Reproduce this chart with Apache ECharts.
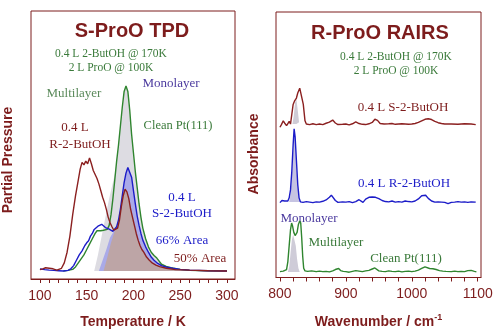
<!DOCTYPE html>
<html>
<head>
<meta charset="utf-8">
<script src="https://cdn.jsdelivr.net/npm/echarts@6/dist/echarts.min.js"></script>
<style>
  html, body { margin: 0; padding: 0; background: #fff; }
  #main { width: 500px; height: 334px; }
</style>
</head>
<body>
<div id="main"></div>
<script>
// ---- TPD (left panel): [temperature K, signal] ----
var tpdRed = [[100,3.5],[103,3.8],[106,4.2],[110,4.0],[114,3.8],[118,3.3],[120,3.2],[123,4],[126,6],[129,10],[132,16],[135,24],[138,31],[141,37],[143,41],[145,43.5],[147,42.6],[149,44],[151,43],[153,45.2],[155,43],[157,40.5],[159,41],[161,37.5],[163,35.5],[165,33],[167,30.5],[169,28.5],[171,26],[173,23],[175,21],[177,19.5],[179,18.2],[181,18.6],[183,19],[185,22],[187,27],[189,31],[191,33.5],[193,32.5],[195,30],[197,26],[199,23],[201,20],[203,17],[205,14.5],[207,12.5],[209,11],[211,10],[214,8.2],[217,7],[220,6],[224,5.2],[228,4.6],[235,4],[245,3.5],[260,3.3],[280,3.1],[300,3]];
var tpdBlue = [[100,3.8],[105,3.5],[110,3.3],[115,3.2],[120,3.1],[125,3.0],[130,3.2],[133,3.8],[136,5],[139,7],[142,9],[145,10.5],[148,12.5],[150,13.5],[152,14.3],[154,16],[156,17],[158,18.5],[160,19],[162,19.7],[164,19.3],[166,20.4],[168,19.8],[170,19.2],[172,19.5],[174,18.6],[176,18.2],[178,17.8],[180,18],[182,19.5],[184,22],[186,26],[188,31],[190,36],[192,39.5],[194,41.6],[196,41],[198,38],[200,33],[202,28],[204,23.5],[206,20],[208,17],[210,14.5],[213,12],[216,10],[219,8.2],[222,7],[226,5.8],[230,5],[236,4.4],[242,4],[250,3.6],[260,3.3],[280,3.1],[300,3]];
var tpdGreen = [[125,3],[130,3.2],[135,3.6],[138,4.5],[141,6],[144,7.5],[147,9],[150,11],[153,13],[156,15],[159,17],[161,18],[163,17.5],[165,18],[168,18.2],[170,18],[172,18.5],[174,20],[176,24],[178,30],[180,37],[182,44],[184,50],[186,57],[188,64],[190,70],[192,72],[194,70],[196,63],[198,54],[200,47],[202,40],[204,34],[206,28],[208,23],[210,19],[213,15],[216,12],[219,10],[222,8.8],[225,7.8],[230,5.5],[235,4.7],[240,4.2],[250,3.6],[260,3.2],[280,3.1],[300,3]];
// monolayer shaded areas
var tpdGrayFill = [[158,3],[162,9],[166,16],[170,23],[174,30],[178,36],[180,39],[182,44],[184,50],[186,57],[188,64],[190,70],[192,72],[194,70],[196,63],[198,54],[200,47],[202,40],[204,34],[206,28],[208,23],[210,19],[213,15],[216,12],[219,10],[222,8.8],[225,7.8],[230,5.5],[235,4.7],[240,4.2],[250,3.6],[255,3.2]];
var tpdBlueFill = [[163,3],[167,7],[171,11],[175,15.5],[179,17.8],[182,19.5],[184,22],[186,26],[188,31],[190,36],[192,39.5],[194,41.6],[196,41],[198,38],[200,33],[202,28],[204,23.5],[206,20],[208,17],[210,14.5],[213,12],[216,10],[219,8.2],[222,7],[226,5.8],[230,5],[236,4.4],[242,4],[250,3.6],[260,3.3]];
var tpdRedFill = [[168,3],[172,8],[176,13.5],[180,18],[183,19],[185,22],[187,27],[189,31],[191,33.5],[193,32.5],[195,30],[197,26],[199,23],[201,20],[203,17],[205,14.5],[207,12.5],[209,11],[211,10],[214,8.2],[217,7],[220,6],[224,5.2],[228,4.6],[235,4],[245,3.5],[255,3.2]];
var tempTicks = [100,110,120,130,140,150,160,170,180,190,200,210,220,230,240,250,260,270,280,290,300];
var tempLabels = [100,150,200,250,300];

// ---- RAIRS (right panel): [wavenumber cm-1, absorbance, offset] ----
var irRed = [[800,56.6],[802,57.5],[805,59],[807,58.2],[810,57.2],[812,58],[814,58.8],[816,57.8],[817.7,57.2],[820,65.2],[822,66.4],[825,67.6],[827,69.5],[830,71.3],[832.5,70.7],[835.4,65.2],[838,59],[840,57.8],[845,57.6],[850,57.9],[855,57.6],[860,57.8],[865,57.6],[870,58.1],[875,58.5],[880,59.3],[884,58.2],[888,57.6],[895,57.7],[900,57.8],[905,57.5],[910,57.9],[915,58.6],[920,58],[925,57.7],[930,57.6],[935,57.9],[940,58.4],[944,59.6],[948,59.2],[952,58],[958,57.8],[965,57.9],[970,58],[975,57.7],[980,57.8],[985,57.9],[990,57.8],[995,57.7],[1000,57.8],[1005,58],[1010,58.4],[1015,59],[1020,59.6],[1025,59.8],[1030,59.5],[1035,58.8],[1040,58.3],[1045,58],[1050,57.8],[1060,57.8],[1070,57.7],[1080,57.9],[1090,57.8],[1097,57.6]];
var irBlue = [[800,28.2],[803,29],[805,29.6],[807,28.8],[810,28.5],[812,28.8],[814,30],[816,33],[818,40],[820,50],[821.5,56],[823,53],[825,44],[827,35],[829,30],[831,28.5],[835,28.3],[840,28.6],[845,28.4],[850,28.2],[855,28.5],[860,28.4],[865,28.7],[870,29.2],[875,30.2],[878,31],[881,30.5],[884,29],[888,28.3],[895,28.5],[900,28.4],[905,28.6],[910,28.2],[915,28.6],[920,29.3],[923,28.8],[926,28.3],[930,29.5],[935,30.2],[940,30.3],[945,30.2],[950,29.7],[955,29],[960,28.6],[965,28.5],[970,28.8],[975,28.4],[980,28.6],[985,28.4],[990,28.8],[995,28.6],[1000,28.5],[1005,28.8],[1010,29.6],[1015,30.8],[1018,31.4],[1021,31],[1025,29.8],[1030,28.8],[1035,28.4],[1040,28.5],[1045,28.4],[1050,28.3],[1055,27.8],[1060,28.3],[1065,28.4],[1070,28.6],[1075,28.4],[1080,28.5],[1085,28.3],[1090,28.5],[1097,28.4]];
var irGreen = [[800,2.2],[803,2.8],[805,2.4],[808,2.3],[810,3],[812,6],[814,12],[816,18],[817.7,20.5],[819,19.5],[821,17],[823,15.8],[824.5,15.6],[826,17],[828,20],[830,21.3],[831.5,20.5],[833,15],[834.5,8],[836,3.5],[838,2.5],[842,2.3],[848,2.5],[855,2.2],[860,2.4],[865,2.2],[870,2.3],[875,2.1],[880,2.5],[884,3],[887,3.6],[889,3.4],[892,2.6],[896,2.3],[900,2.2],[905,2],[910,2.3],[915,2.6],[920,2.4],[925,2.2],[930,2.5],[935,2.7],[940,3.2],[944,3.6],[947,3.2],[950,2.5],[955,2.3],[960,2.2],[965,2.5],[970,2.3],[975,2.2],[980,2.4],[985,2.1],[990,2.3],[995,2.4],[1000,2.2],[1005,2.4],[1010,2.8],[1015,3.4],[1020,4],[1023,3.8],[1027,3.4],[1032,3.3],[1037,3],[1042,2.6],[1047,2.4],[1052,2.3],[1060,2.2],[1065,2.4],[1070,2.2],[1075,2.3],[1080,2.2],[1085,2.6],[1090,2.7],[1095,2.3],[1098,2.1]];
// monolayer shaded peaks
var irRedFill = [[819,57.8],[821,61],[823,66],[825,67],[827,63],[829,58.5],[830,57.8]];
var irBlueFill = [[814,28.4],[816,31],[818,38],[820,47],[821.5,54],[823,51],[825,42],[827,34],[829,29.5],[831,28.4]];
var irGreenFill = [[812,2.1],[814,4],[816,9],[818,14],[820,16.2],[822,15.5],[824,12],[826,7],[828,3.5],[830,2.1]];
var waveTicks = [800,820,840,860,880,900,920,940,960,980,1000,1020,1040,1060,1080,1100];
var waveLabels = [800,900,1000,1100];

var dark = '#7d1c1c';
var cRed = '#8b2020', cBlue = '#1c1cc8', cGreen = '#2f852f';
var green = '#3a7a3a', purple = '#4b3a9e';
var serif = 'Liberation Serif, DejaVu Serif, serif';
var sans = 'Liberation Sans, Arial, sans-serif';

var chart = echarts.init(document.getElementById('main'));

function curve(data, color, xi, z) {
    return {type: 'line', xAxisIndex: xi, yAxisIndex: xi, data: data, symbol: 'none',
        lineStyle: {color: color, width: 1.4}, z: z || 5, silent: true};
}
function fill(data, color, xi, base, z) {
    return {type: 'line', xAxisIndex: xi, yAxisIndex: xi, data: data, symbol: 'none',
        lineStyle: {width: 0}, areaStyle: {color: color, opacity: 1, origin: base}, z: z, silent: true};
}
function txt(x, y, s, color, size, font, weight) {
    return {type: 'text', x: x, y: y, style: {text: s, fill: color, fontSize: size,
        fontFamily: font || serif, fontWeight: weight || 'normal', align: 'center', verticalAlign: 'middle'}};
}
function xAxisCfg(gi, min, max, ticks, labels, name) {
    return {gridIndex: gi, type: 'value', min: min, max: max,
        axisLine: {show: true, lineStyle: {color: dark}},
        axisTick: {show: true, length: 4, customValues: ticks, lineStyle: {color: dark}},
        axisLabel: {customValues: labels, color: dark, fontSize: 14, fontFamily: sans, margin: 10,
            formatter: function (v) { return String(v); }},
        splitLine: {show: false},
        name: name, nameLocation: 'middle', nameGap: 36,
        nameTextStyle: {color: dark, fontSize: 14, fontWeight: 'bold', fontFamily: sans,
            rich: {sup: {fontSize: 9, fontWeight: 'bold', color: dark, fontFamily: sans, padding: [0, 0, 8, 0]}}}};
}

var option = {
    animation: false,
    grid: [
        {left: 31, top: 11, width: 204, height: 275, show: true, borderColor: dark, borderWidth: 1, backgroundColor: 'transparent'},
        {left: 276, top: 12, width: 205, height: 272, show: true, borderColor: dark, borderWidth: 1, backgroundColor: 'transparent'}
    ],
    xAxis: [
        xAxisCfg(0, 90.4, 308.6, tempTicks, tempLabels, 'Temperature / K'),
        xAxisCfg(1, 794, 1105, waveTicks, waveLabels, 'Wavenumber / cm{sup|-1}')
    ],
    yAxis: [
        {gridIndex: 0, type: 'value', min: 0, max: 100, show: false},
        {gridIndex: 1, type: 'value', min: 0, max: 100, show: false}
    ],
    series: [
        fill(tpdGrayFill, '#dddce2', 0, 3, 1),
        fill(tpdBlueFill, '#aaaae8', 0, 3, 2),
        fill(tpdRedFill, '#bda5a6', 0, 3, 3),
        curve(tpdGreen, cGreen, 0),
        curve(tpdBlue, cBlue, 0),
        curve(tpdRed, cRed, 0),
        fill(irRedFill, '#cfccd6', 1, 57.8, 1),
        fill(irBlueFill, '#c6c4e2', 1, 28.4, 1),
        fill(irGreenFill, '#cfccd8', 1, 2.1, 1),
        curve(irRed, cRed, 1),
        curve(irBlue, cBlue, 1),
        curve(irGreen, cGreen, 1)
    ],
    graphic: [
        txt(132, 31, 'S-ProO TPD', dark, 20, sans, 'bold'),
        txt(111, 54, '0.4 L 2-ButOH @ 170K', green, 11.5),
        txt(111, 68, '2 L ProO @ 100K', green, 11.5),
        txt(74, 94, 'Multilayer', '#5b8a5b', 13),
        txt(171, 84, 'Monolayer', purple, 13),
        txt(178, 126, 'Clean Pt(111)', green, 12.5),
        txt(75, 128, '0.4 L', dark, 13),
        txt(80, 145, 'R-2-ButOH', dark, 13),
        txt(182, 198, '0.4 L', cBlue, 13),
        txt(182, 214, 'S-2-ButOH', cBlue, 13),
        txt(182, 241, '66% Area', cBlue, 13),
        txt(200, 259, '50% Area', dark, 13),
        {type: 'text', x: 8, y: 160, rotation: Math.PI / 2,
            style: {text: 'Partial Pressure', fill: dark, fontSize: 14, fontWeight: 'bold', fontFamily: sans, align: 'center', verticalAlign: 'middle'}},
        txt(380, 33, 'R-ProO RAIRS', dark, 20, sans, 'bold'),
        txt(396, 57, '0.4 L 2-ButOH @ 170K', green, 11.5),
        txt(396, 71, '2 L ProO @ 100K', green, 11.5),
        txt(403, 108, '0.4 L S-2-ButOH', dark, 13),
        txt(404, 184, '0.4 L R-2-ButOH', cBlue, 13),
        txt(309, 219, 'Monolayer', purple, 13),
        txt(336, 243, 'Multilayer', green, 13),
        txt(406, 259, 'Clean Pt(111)', green, 13),
        {type: 'text', x: 254, y: 154, rotation: Math.PI / 2,
            style: {text: 'Absorbance', fill: dark, fontSize: 14, fontWeight: 'bold', fontFamily: sans, align: 'center', verticalAlign: 'middle'}}
    ]
};
chart.setOption(option);
</script>
</body>
</html>
